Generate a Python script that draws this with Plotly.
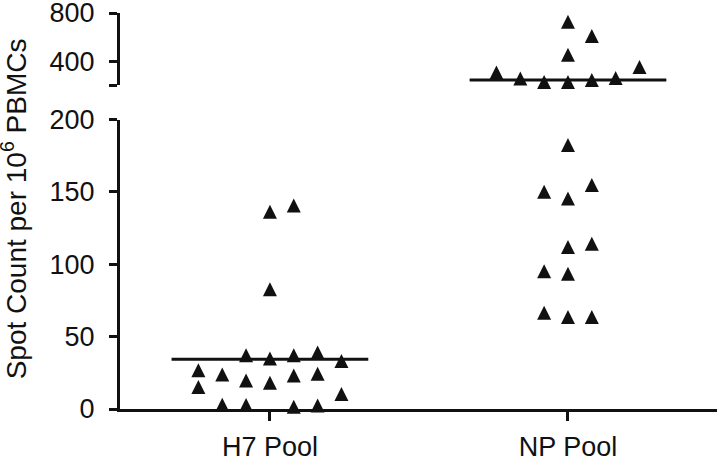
import plotly.graph_objects as go

# ---------------- data ----------------
groups = ["H7 Pool", "NP Pool"]

h7_values = [35.5, 33.2, 35.5, 37.4, 31.5,
             25.1, 22.2, 18.0, 16.5, 21.5, 22.7, 13.6, 8.7,
             1.4, 1.2, -1.0, 0.0, 0.8,
             134.6, 138.9, 81.2]
h7_cols = [-1, 0, 1, 2, 3,
           -3, -2, -1, 0, 1, 2, -3, 3,
           -2, -1, 0, 1, 2,
           0, 1, 0]

np_values = [180.8, 148.4, 143.8, 153.2, 110.3, 112.5, 93.5, 91.9, 64.9, 61.9, 61.9,
             708, 590, 434, 286, 331, 236, 206, 206, 223, 240]
np_cols = [0, -1, 0, 1, 0, 1, -1, 0, -1, 0, 1,
           0, 1, 0, -3, 3, -2, -1, 0, 1, 2]

group_means = [34.4, 243.0]

lower_ticks = [0, 50, 100, 150, 200]
upper_ticks = [400, 800]
axis_break = 200

# ---------------- styling ----------------
COL_STEP = 0.08
HALF_LINE = 0.33
MSIZE = 14
FONT = "Liberation Sans, Arial, sans-serif"
INK = "#111111"

fig = go.Figure()


def add_points(gidx, vals, cols):
    lo_x, lo_y, hi_x, hi_y = [], [], [], []
    for v, c in zip(vals, cols):
        x = gidx + c * COL_STEP
        if v > axis_break:
            hi_x.append(x); hi_y.append(v)
        else:
            lo_x.append(x); lo_y.append(v)
    marker = dict(symbol="arrow-down", angle=180, standoff=MSIZE * 2 / 3,
                  size=MSIZE, color=INK, line=dict(width=0))
    if lo_x:
        fig.add_trace(go.Scatter(x=lo_x, y=lo_y, mode="markers", marker=marker,
                                 xaxis="x", yaxis="y", cliponaxis=False,
                                 showlegend=False))
    if hi_x:
        fig.add_trace(go.Scatter(x=hi_x, y=hi_y, mode="markers", marker=marker,
                                 xaxis="x", yaxis="y2", cliponaxis=False,
                                 showlegend=False))


add_points(0, h7_values, h7_cols)
add_points(1, np_values, np_cols)

for gidx, m in enumerate(group_means):
    fig.add_trace(go.Scatter(x=[gidx - HALF_LINE, gidx + HALF_LINE], y=[m, m],
                             mode="lines", line=dict(color=INK, width=3),
                             xaxis="x", yaxis="y2" if m > axis_break else "y",
                             cliponaxis=False, showlegend=False))

axis_common = dict(showline=True, linecolor=INK, linewidth=3, ticks="outside",
                   tickcolor=INK, tickwidth=3, showgrid=False, zeroline=False,
                   automargin=False, ticklabeloverflow="allow",
                   tickfont=dict(family=FONT, size=27, color=INK))

fig.update_layout(
    width=720, height=460,
    margin=dict(l=120, r=3, t=13, b=51, autoexpand=False),
    paper_bgcolor="white", plot_bgcolor="white",
    xaxis=dict(range=[-0.503, 1.5], tickvals=[0, 1], ticktext=groups,
               anchor="y", ticklen=9, ticklabelstandoff=3, **axis_common),
    yaxis=dict(domain=[0, 0.731], range=[0, 200], tickvals=lower_ticks,
               anchor="x", ticklen=8, ticklabelstandoff=9, **axis_common),
    yaxis2=dict(domain=[0.818, 1.0], range=[axis_break, 800], tickvals=upper_ticks,
                anchor="x", ticklen=8, ticklabelstandoff=9,
                minor=dict(tickvals=[axis_break], ticks="outside", ticklen=8,
                           tickwidth=3, tickcolor=INK, showgrid=False),
                **axis_common),
    annotations=[dict(text="Spot Count per 10<sup>6</sup> PBMCs",
                      xref="paper", yref="paper", x=-0.178, y=0.506,
                      xanchor="center", yanchor="middle", textangle=-90,
                      showarrow=False,
                      font=dict(family=FONT, size=28, color=INK))],
)

fig.write_html("out.html", config={"displayModeBar": False},
               post_script="document.body.style.margin='0';")
